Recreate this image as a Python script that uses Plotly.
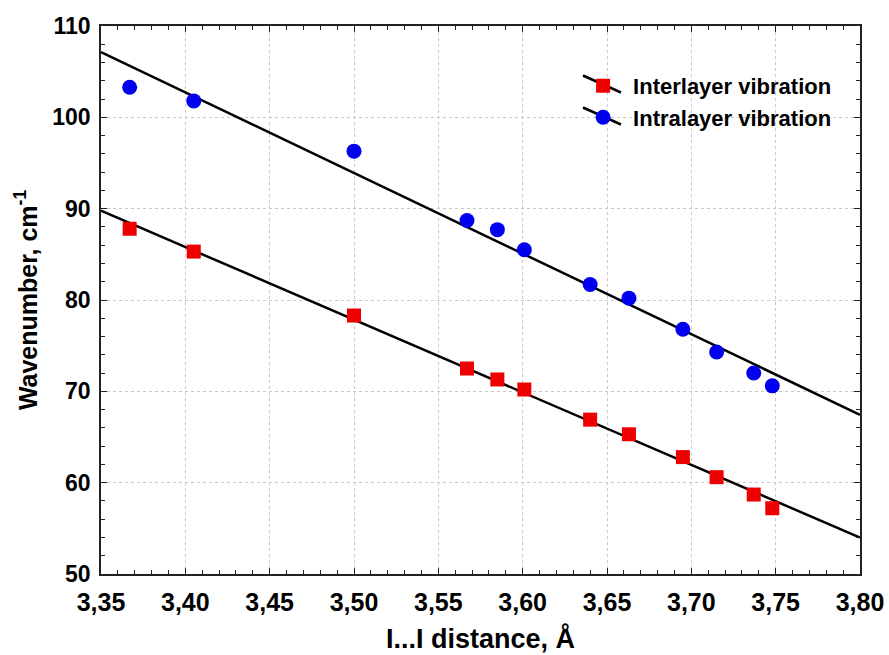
import numpy as np
import plotly.graph_objects as go

# I...I distance (Å) for each compound
distance = [3.367, 3.405, 3.500, 3.567, 3.585, 3.601, 3.640, 3.663, 3.695, 3.715, 3.737, 3.748]
# Wavenumbers (cm-1)
interlayer = [87.8, 85.3, 78.3, 72.5, 71.3, 70.2, 66.9, 65.3, 62.8, 60.6, 58.7, 57.2]
intralayer = [103.3, 101.8, 96.3, 88.7, 87.7, 85.5, 81.7, 80.2, 76.8, 74.3, 72.0, 70.6]

x_range = [3.35, 3.80]
y_range = [50, 110]
x_ticks = [3.35, 3.40, 3.45, 3.50, 3.55, 3.60, 3.65, 3.70, 3.75, 3.80]
x_ticklabels = ["3,35", "3,40", "3,45", "3,50", "3,55", "3,60", "3,65", "3,70", "3,75", "3,80"]
y_ticks = [50, 60, 70, 80, 90, 100, 110]

FONT = "Liberation Sans, Arial, sans-serif"

fig = go.Figure()

series = [
    ("Interlayer vibration", interlayer, "#ee0000", "square", 14),
    ("Intralayer vibration", intralayer, "#0000ee", "circle", 15),
]

xs = np.array(x_range)
for i, (name, vals, color, symbol, size) in enumerate(series):
    slope, icpt = np.polyfit(distance, vals, 1)
    # least-squares line across the full axis range
    fig.add_trace(go.Scatter(
        x=xs, y=slope * xs + icpt, mode="lines",
        line=dict(color="black", width=2.5),
        showlegend=False, hoverinfo="skip",
    ))
    fig.add_trace(go.Scatter(
        x=distance, y=vals, mode="markers", name=name,
        legendgroup=f"g{i}",
        marker=dict(color=color, symbol=symbol, size=size),
    ))

# legend entry: slanted fit-line stroke behind each symbol
PLOT_L, PLOT_T, PLOT_W, PLOT_H = 101, 26, 759, 548
for yc in [84, 116]:
    ypx = 1 - (yc - PLOT_T) / PLOT_H
    fig.add_shape(
        type="line", xref="paper", yref="paper",
        x0=(583 - PLOT_L) / PLOT_W, y0=ypx + 8.5 / PLOT_H,
        x1=(621 - PLOT_L) / PLOT_W, y1=ypx - 8.5 / PLOT_H,
        line=dict(color="black", width=2.5), layer="below",
    )

fig.update_layout(
    width=889, height=655,
    margin=dict(l=PLOT_L, r=889 - PLOT_L - PLOT_W, t=PLOT_T, b=655 - PLOT_T - PLOT_H, autoexpand=False),
    paper_bgcolor="white", plot_bgcolor="white",
    font=dict(family=FONT, color="black"),
    legend=dict(
        x=0.622, y=0.929, xanchor="left", yanchor="top",
        bgcolor="rgba(0,0,0,0)", borderwidth=0,
        font=dict(size=22, color="black", family=FONT, weight="bold"),
        tracegroupgap=0, itemwidth=50,
    ),
    xaxis=dict(
        range=x_range, tickvals=x_ticks, ticktext=x_ticklabels,
        automargin=False,
        showline=True, linecolor="#222222", linewidth=1.5, mirror="allticks",
        ticks="inside", ticklen=6, tickcolor="#222222",
        minor=dict(dtick=0.01, ticks="inside", ticklen=4, tickcolor="#222222", showgrid=False),
        showgrid=True, gridcolor="#c8c8c8", griddash="dot", gridwidth=1,
        tickfont=dict(family=FONT, size=25, color="black", weight="bold"),
        ticklabelstandoff=5,
        zeroline=False,
        title=dict(text="I...I distance, Å", font=dict(family=FONT, size=27, color="black", weight="bold"), standoff=14),
    ),
    yaxis=dict(
        range=y_range, tickvals=y_ticks,
        automargin=False,
        showline=True, linecolor="#222222", linewidth=1.5, mirror="allticks",
        ticks="inside", ticklen=6, tickcolor="#222222",
        minor=dict(dtick=2, ticks="inside", ticklen=4, tickcolor="#222222", showgrid=False),
        showgrid=True, gridcolor="#c8c8c8", griddash="dot", gridwidth=1,
        tickfont=dict(family=FONT, size=23, color="black", weight="bold"),
        ticklabelstandoff=4,
        zeroline=False,
        title=dict(text="Wavenumber, cm<sup>-1</sup>", font=dict(family=FONT, size=25, color="black", weight="bold"), standoff=8),
    ),
)

fig.write_html("out.html")
